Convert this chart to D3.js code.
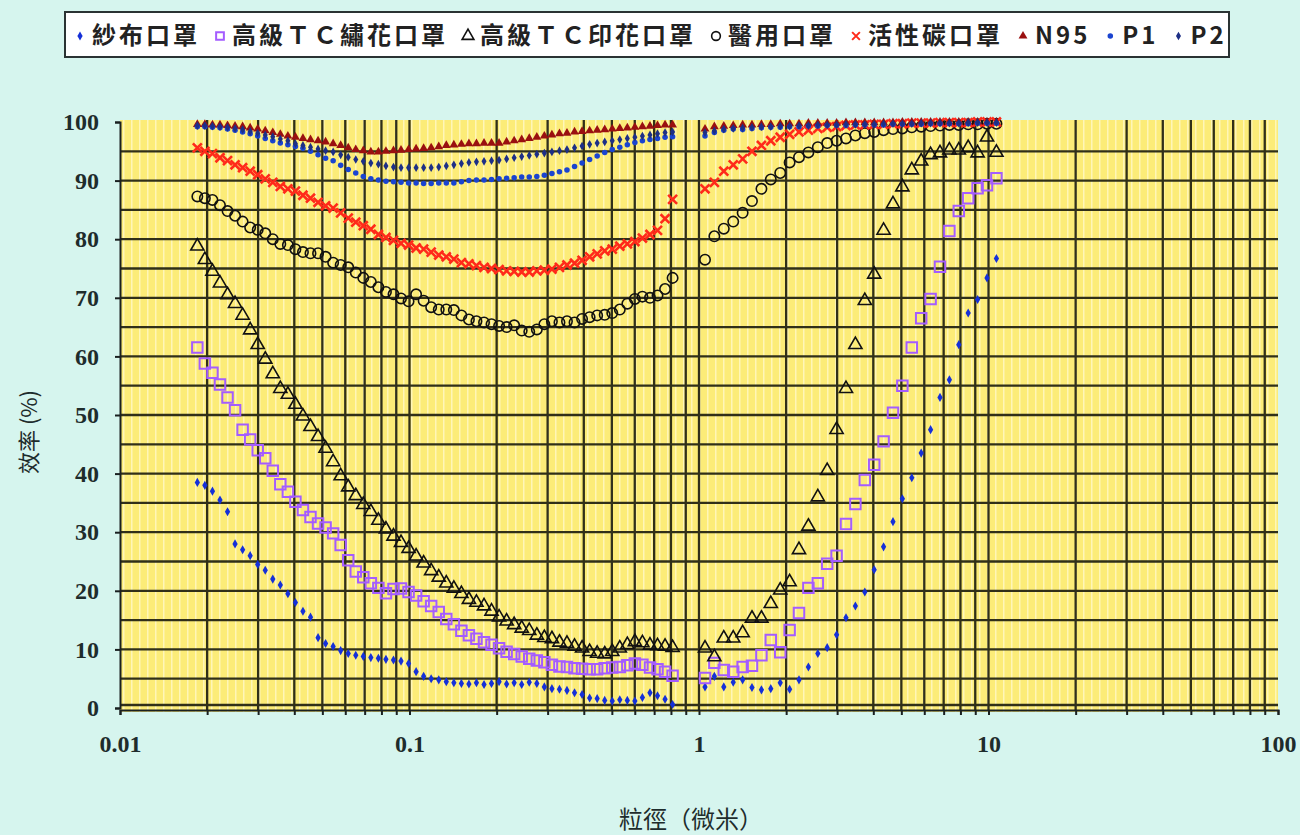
<!DOCTYPE html>
<html>
<head>
<meta charset="utf-8">
<script src="https://cdn.jsdelivr.net/npm/d3@7"></script>
<style>
  body { margin: 0; background: #d6f5ee; }
  svg { display: block; }
</style>
</head>
<body>
<svg id="chart" width="1300" height="835"></svg>
<script>
// particle size (micrometre) of each measured channel, left instrument and right instrument
const leftSize = [0.0185, 0.01964, 0.02086, 0.02215, 0.02352, 0.02497, 0.02652, 0.02816, 0.0299, 0.03175,
  0.03371, 0.03579, 0.03801, 0.04036, 0.04285, 0.0455, 0.04832, 0.0513, 0.05448, 0.05784,
  0.06142, 0.06522, 0.06925, 0.07353, 0.07808, 0.08291, 0.08804, 0.09348, 0.09926, 0.1054,
  0.1119, 0.1188, 0.1262, 0.134, 0.1423, 0.1511, 0.1604, 0.1703, 0.1809, 0.192,
  0.2039, 0.2165, 0.2299, 0.2441, 0.2592, 0.2753, 0.2923, 0.3104, 0.3296, 0.3499,
  0.3716, 0.3946, 0.419, 0.4449, 0.4724, 0.5016, 0.5326, 0.5655, 0.6005, 0.6376,
  0.6771, 0.7189, 0.7634, 0.8106]
const rightSize = [1.049, 1.13, 1.218, 1.313, 1.415, 1.524, 1.643, 1.77, 1.908, 2.056,
  2.215, 2.387, 2.573, 2.772, 2.987, 3.219, 3.469, 3.739, 4.029, 4.341,
  4.678, 5.041, 5.433, 5.855, 6.309, 6.799, 7.327, 7.896, 8.508, 9.169,
  9.881, 10.65]

// efficiency (%) per mask
const gauzeLeft = [38.5, 38, 37, 35.5, 33.5, 28, 27, 26, 24.5, 23.5, 22, 21, 19.5, 18, 16.5, 15.5, 12, 11, 10.5, 9.8,
  9.3, 9, 8.8, 8.6, 8.5, 8.3, 8.2, 8, 7.6, 6.2, 5.4, 5, 4.8, 4.5, 4.3, 4.2, 4.1, 4.3, 4, 4.2,
  4.5, 4.1, 4.3, 4, 4.4, 4.2, 3.6, 3.3, 3.2, 3, 2.6, 2.3, 1.7, 1.6, 1.3, 1.2, 1.4, 1.3, 1.2, 1.8,
  2.6, 2.1, 1.5, 0.6]
const gauzeRight = [3.6, 5.4, 3.6, 4.4, 4.8, 3.5, 3.1, 3.3, 4.3, 3.2, 4.8, 7, 9.3, 10.3, 12.5, 15.4, 17.4, 19.8, 23.6, 27.5,
  31.8, 35.7, 39.3, 43.5, 47.5, 53, 56, 62, 67.4, 69.7, 73.4, 76.7]

const embroidLeft = [61.5, 58.8, 57.2, 55.2, 53, 50.8, 47.5, 45.8, 44, 42.6, 40.5, 38.2, 36.9, 35.2, 33.8, 32.6, 31.5, 30.8, 29.8, 27.8,
  25.2, 23.3, 22.3, 21.3, 20.5, 19.6, 20.3, 20.4, 19.8, 19.2, 18.2, 17.4, 16.4, 15.2, 14.3, 13.2, 12.4, 11.8, 11.2, 10.8,
  10.2, 9.6, 9.2, 8.8, 8.4, 8.1, 7.8, 7.4, 7.1, 7, 6.8, 6.7, 6.6, 6.6, 6.8, 6.9, 7, 7.3, 7.6, 7.4,
  6.9, 6.6, 6.2, 5.5]
const embroidRight = [5.1, 7.7, 6.5, 6.2, 7, 7.2, 9, 11.6, 9.5, 13.3, 16.2, 20.5, 21.3, 24.6, 26, 31.4, 34.8, 38.9, 41.5, 45.5,
  50.4, 55, 61.5, 66.5, 69.8, 75.3, 81.4, 84.8, 87, 88.7, 89.2, 90.4]

const printLeft = [78.8, 76.5, 74.5, 72.5, 70.5, 69, 67, 64.5, 62, 59.5, 57, 54.5, 53.5, 51.8, 49.8, 48, 46.3, 44.3, 42, 39.6,
  37.7, 36.2, 34.7, 33.5, 32, 30.5, 29.3, 28.2, 27.2, 25.9, 24.7, 23.4, 22.3, 21.3, 20.4, 19.5, 18.5, 18, 17.4, 16.5,
  15.5, 14.8, 14.2, 13.6, 13.2, 12.4, 12, 11.8, 11.2, 11, 10.5, 10.2, 9.6, 9.3, 9.2, 9.6, 10.2, 10.8, 11.3, 11.1,
  10.7, 10.6, 10.5, 10.3]
const printRight = [10.2, 8.7, 11.9, 11.9, 12.8, 15.3, 15.3, 17.8, 20.1, 21.5, 27, 31, 36, 40.5, 47.5, 54.5, 62, 69.5, 74, 81.5,
  86, 88.9, 91.8, 93.3, 94.4, 94.7, 95.2, 95.2, 95.6, 94.7, 97.4, 94.8]

const medicalLeft = [87.3, 87, 86.7, 85.8, 84.8, 84, 83, 82, 81.6, 81, 80, 79.2, 79, 78.3, 77.8, 77.6, 77.6, 77, 76, 75.6,
  75.2, 74.3, 73.4, 72.7, 71.8, 71, 70.6, 69.9, 69.4, 70.6, 69.5, 68.4, 68, 68, 67.9, 67, 66.3, 66, 65.8, 65.5,
  65.2, 65, 65.3, 64.4, 64.2, 64.6, 65.5, 66, 65.8, 66, 65.8, 66.4, 66.7, 67, 67.1, 67.4, 68, 69, 69.8, 70.2,
  70, 70.4, 71.5, 73.4]
const medicalRight = [76.5, 80.5, 81.8, 83, 84.5, 86.5, 88.6, 90.2, 91.3, 93.1, 94, 94.8, 95.7, 96.4, 96.8, 97.2, 97.7, 98.1, 98.3, 98.6,
  98.8, 98.9, 99.1, 99.2, 99.3, 99.4, 99.5, 99.5, 99.6, 99.6, 99.7, 99.7]

const carbonLeft = [95.6, 95, 94.6, 93.9, 93.4, 92.7, 92.2, 91.6, 91, 90.3, 89.7, 89, 88.6, 88.2, 87.5, 87, 86.3, 85.7, 85.3, 84.5,
  83.6, 82.9, 82.3, 81.7, 80.8, 80.3, 79.8, 79.3, 79, 78.5, 78.3, 77.8, 77.3, 77, 76.6, 76, 75.8, 75.5, 75.2, 75,
  74.8, 74.6, 74.5, 74.4, 74.4, 74.6, 74.7, 74.9, 75.2, 75.6, 75.9, 76.4, 77, 77.5, 78, 78.3, 78.8, 79.2, 79.6, 80.2,
  80.8, 81.5, 83.5, 86.8]
const carbonRight = [88.6, 89.7, 91.6, 92.7, 93.7, 95, 96, 96.8, 97.4, 97.9, 98.3, 98.6, 98.9, 99.1, 99.2, 99.4, 99.5, 99.5, 99.6, 99.6,
  99.7, 99.7, 99.8, 99.8, 99.8, 99.9, 99.9, 99.9, 99.9, 100, 100, 100]

const n95Left = [99.6, 99.6, 99.5, 99.5, 99.4, 99.3, 99.2, 99, 98.8, 98.5, 98.2, 97.9, 97.6, 97.4, 97.2, 97, 96.8, 96.6, 96.3, 96,
  95.6, 95.3, 95.1, 94.9, 94.9, 95, 95.1, 95.2, 95.3, 95.4, 95.5, 95.6, 95.8, 96, 96.1, 96.2, 96.3, 96.3, 96.4, 96.4,
  96.4, 96.6, 96.8, 97, 97.2, 97.4, 97.6, 97.8, 98, 98.1, 98.3, 98.4, 98.5, 98.6, 98.7, 98.8, 98.9, 99, 99.1, 99.2,
  99.3, 99.4, 99.5, 99.5]
const n95Right = [98.8, 99.2, 99.3, 99.4, 99.5, 99.5, 99.6, 99.6, 99.7, 99.7, 99.7, 99.8, 99.8, 99.8, 99.8, 99.9, 99.9, 99.9, 99.9, 99.9,
  99.9, 100, 100, 100, 100, 100, 100, 100, 100, 100, 100, 100]

const p1Left = [99.2, 99.2, 99.1, 99, 98.8, 98.6, 98.3, 98, 97.6, 97.2, 96.8, 96.4, 96.1, 95.8, 95.5, 95, 94.4, 93.8, 93.4, 92.6,
  91.9, 91.3, 90.7, 90.3, 90.1, 89.9, 89.8, 89.7, 89.6, 89.6, 89.5, 89.5, 89.6, 89.6, 89.6, 89.8, 90, 90.1, 90.1, 90.2,
  90.3, 90.4, 90.5, 90.6, 90.6, 90.7, 90.9, 91.2, 91.5, 91.8, 92.4, 93, 93.6, 94.2, 94.8, 95.3, 95.7, 96.1, 96.5, 96.8,
  97, 97.2, 97.4, 97.5]
const p1Right = [97.6, 98.2, 98.6, 98.8, 98.7, 98.9, 99, 99.1, 99.1, 99.2, 99.2, 99.3, 99.3, 99.4, 99.4, 99.4, 99.5, 99.5, 99.5, 99.5,
  99.6, 99.6, 99.6, 99.6, 99.7, 99.7, 99.7, 99.7, 99.7, 99.8, 99.8, 99.8]

const p2Left = [99.4, 99.4, 99.3, 99.2, 99.1, 98.9, 98.7, 98.4, 98.1, 97.8, 97.5, 97.1, 96.8, 96.3, 96, 95.7, 95.4, 95.1, 94.9, 94.4,
  94, 93.6, 93.3, 93, 92.8, 92.5, 92.3, 92.2, 92.2, 92.2, 92.2, 92.2, 92.3, 92.5, 92.7, 92.9, 93.1, 93.2, 93.3, 93.4,
  93.5, 93.7, 93.9, 94.1, 94.3, 94.5, 94.7, 94.9, 95.1, 95.3, 95.6, 95.9, 96.2, 96.4, 96.6, 96.8, 97, 97.2, 97.4, 97.6,
  97.8, 98, 98.2, 98.3]
const p2Right = [98.2, 98.5, 98.8, 98.9, 99, 99.1, 99.2, 99.2, 99.3, 99.3, 99.4, 99.4, 99.5, 99.5, 99.5, 99.6, 99.6, 99.6, 99.6, 99.7,
  99.7, 99.7, 99.7, 99.8, 99.8, 99.8, 99.8, 99.8, 99.9, 99.9, 99.9, 99.9]

const seriesNames = ['紗布口罩', '高級ＴＣ繡花口罩', '高級ＴＣ印花口罩', '醫用口罩', '活性碳口罩', 'N95', 'P1', 'P2']
const yTicks = [0, 10, 20, 30, 40, 50, 60, 70, 80, 90, 100]
const xTickLabels = [0.01, 0.1, 1, 10, 100]

const svg = d3.select('#chart')

const x = d3.scaleLog().domain([0.01, 100]).range([120, 1278])
const y = d3.scaleLinear().domain([0, 100]).range([708, 122])

// custom "x" marker, same look as the excel one
const symbolCross = {
  draw(ctx, size) {
    const r = Math.sqrt(size) / 2
    ctx.moveTo(-r, -r); ctx.lineTo(r, r)
    ctx.moveTo(r, -r); ctx.lineTo(-r, r)
  }
}

const styles = [
  { type: d3.symbolDiamond, size: 24, fill: '#1530d8', stroke: 'none', sw: 0 },
  { type: d3.symbolSquare, size: 110, fill: 'none', stroke: '#a45cff', sw: 2 },
  { type: d3.symbolTriangle, size: 75, fill: 'none', stroke: '#111', sw: 1.6 },
  { type: d3.symbolCircle, size: 85, fill: 'none', stroke: '#111', sw: 1.6 },
  { type: symbolCross, size: 80, fill: 'none', stroke: '#ff2a1a', sw: 2.6 },
  { type: d3.symbolTriangle, size: 34, fill: '#9a1010', stroke: 'none', sw: 0 },
  { type: d3.symbolCircle, size: 24, fill: '#1a44d0', stroke: 'none', sw: 0 },
  { type: d3.symbolDiamond, size: 22, fill: '#1d2f86', stroke: 'none', sw: 0 }
]

const seriesData = [
  [gauzeLeft, gauzeRight], [embroidLeft, embroidRight], [printLeft, printRight], [medicalLeft, medicalRight],
  [carbonLeft, carbonRight], [n95Left, n95Right], [p1Left, p1Right], [p2Left, p2Right]
].map(([l, r]) => l.map((v, i) => [leftSize[i], v]).concat(r.map((v, i) => [rightSize[i], v])))

// plot area with the dithered yellow
const defs = svg.append('defs')
const pat = defs.append('pattern')
  .attr('id', 'dither').attr('patternUnits', 'userSpaceOnUse')
  .attr('width', 8).attr('height', 8)
pat.append('rect').attr('width', 8).attr('height', 8).attr('fill', '#fcec78')
pat.append('rect').attr('x', 3).attr('width', 1.5).attr('height', 8).attr('fill', '#fff6b8')

svg.append('rect')
  .attr('x', 120).attr('y', 120)
  .attr('width', 1278 - 120).attr('height', 712 - 120)
  .attr('fill', 'url(#dither)')

// grid
const gridG = svg.append('g').attr('stroke', '#1f2010').attr('stroke-width', 2.3).attr('opacity', 0.92)
const vGrid = x.ticks().filter(d => d > 0.01 && d < 100)
gridG.selectAll('.vg').data(vGrid).enter().append('line')
  .attr('x1', d => x(d)).attr('x2', d => x(d))
  .attr('y1', 120).attr('y2', 710)
const hGrid = d3.range(0, 100, 5)
gridG.selectAll('.hg').data(hGrid).enter().append('line')
  .attr('x1', 120).attr('x2', 1278)
  .attr('y1', d => y(d) - (d == 0 ? 3 : 0)).attr('y2', d => y(d) - (d == 0 ? 3 : 0))

// axes
const axisFont = '"Liberation Serif", "DejaVu Serif", serif'
const yAxis = svg.append('g')
  .attr('transform', 'translate(120,0)')
  .call(d3.axisLeft(y).tickValues(yTicks).tickSize(5).tickPadding(16))
yAxis.select('.domain').attr('stroke', '#1a2020').attr('stroke-width', 2)
yAxis.selectAll('line').attr('stroke', '#1a2020').attr('stroke-width', 2)
yAxis.selectAll('text')
  .attr('font-family', axisFont).attr('font-size', 24).attr('font-weight', 'bold')
  .attr('fill', '#1e2c2c')

const xAxis = svg.append('g')
  .attr('transform', 'translate(0,710)')
  .call(d3.axisBottom(x).tickValues(x.ticks()).tickSize(5).tickPadding(20)
    .tickFormat(d => xTickLabels.includes(d) ? String(d) : ''))
xAxis.select('.domain').attr('stroke', '#1a2020').attr('stroke-width', 2)
xAxis.selectAll('line').attr('stroke', '#1a2020').attr('stroke-width', 2)
xAxis.selectAll('text')
  .attr('font-family', axisFont).attr('font-size', 24).attr('font-weight', 'bold')
  .attr('fill', '#1e2c2c')

// markers
const sym = d3.symbol()
seriesData.forEach((pts, k) => {
  const st = styles[k]
  svg.append('g').selectAll('path')
    .data(pts)
    .enter()
    .append('path')
    .attr('transform', d => `translate(${x(d[0])},${y(d[1])})`)
    .attr('d', sym.type(st.type).size(st.size)())
    .attr('fill', st.fill)
    .attr('stroke', st.stroke)
    .attr('stroke-width', st.sw)
})

// axis titles
const cjk = '"Noto Sans CJK TC", "Noto Sans CJK SC", sans-serif'
svg.append('text')
  .attr('transform', 'translate(37,432) rotate(-90)')
  .attr('text-anchor', 'middle')
  .attr('font-family', cjk).attr('font-size', 22).attr('fill', '#1e2c2c')
  .text('效率 (%)')

svg.append('text')
  .attr('x', 691).attr('y', 828)
  .attr('text-anchor', 'middle')
  .attr('font-family', cjk).attr('font-size', 24).attr('fill', '#1e2c2c')
  .text('粒徑（微米）')

// legend
const legendG = svg.append('g')
legendG.append('rect')
  .attr('x', 65).attr('y', 12).attr('width', 1164).attr('height', 45)
  .attr('fill', '#fff').attr('stroke', '#2a3333').attr('stroke-width', 2)

let lx = 80
seriesNames.forEach((name, k) => {
  const st = styles[k]
  legendG.append('path')
    .attr('transform', `translate(${lx},36)`)
    .attr('d', sym.type(st.type).size(Math.min(st.size, 60))())
    .attr('fill', st.fill)
    .attr('stroke', st.stroke)
    .attr('stroke-width', Math.min(st.sw, 2))
  const t = legendG.append('text')
    .attr('x', lx + 12).attr('y', 44)
    .attr('font-family', cjk).attr('font-size', 24).attr('font-weight', 'bold')
    .attr('letter-spacing', 3)
    .attr('fill', '#222')
    .text(name)
  lx += 12 + t.node().getComputedTextLength() + 20
})
</script>
</body>
</html>
